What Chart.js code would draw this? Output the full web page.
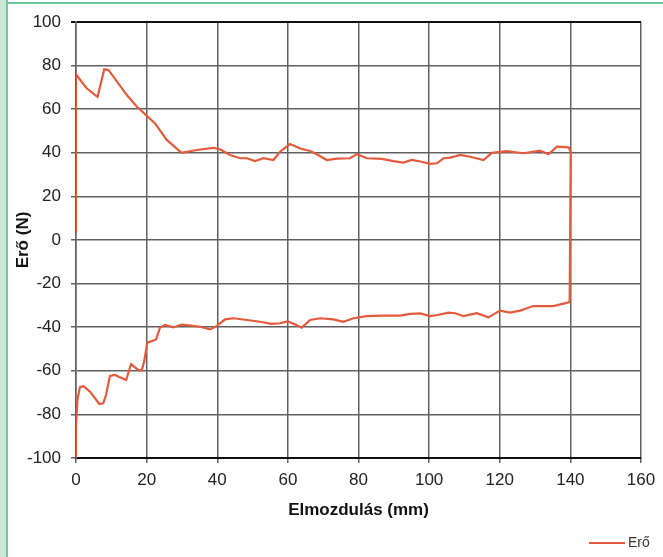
<!DOCTYPE html>
<html lang="hu">
<head>
    <meta charset="UTF-8">
    <title>Erő - elmozdulás</title>
    <script src="https://cdn.jsdelivr.net/npm/chart.js"></script>
    <style>
        body {
            margin: 0;
            background: #ffffff;
        }

        .frame {
            position: relative;
            width: 663px;
            height: 557px;
            background: #ffffff;
            overflow: hidden;
        }

        /* zöld keret a bal oldalon és felül */
        .frame .strip {
            position: absolute;
            left: 0;
            top: 0;
            width: 6px;
            height: 557px;
            background: #c8e6d7;
            border-right: 2px solid #6cc79c;
        }

        .frame .topline {
            position: absolute;
            left: 6px;
            top: 2px;
            width: 657px;
            height: 2px;
            background: #6cc79c;
        }

        .frame canvas {
            position: absolute;
            left: 0;
            top: 0;
        }
    </style>
</head>
<body>

<div class="frame">
    <div class="strip"></div>
    <div class="topline"></div>
    <canvas id="eroChart" width="663" height="557"></canvas>
</div>

<script>
// Adatok
const elmozdulas = [
    0, 0, 3, 6.1, 8.0, 9.2, 14.4, 17.2, 22.4, 25.7, 29.9, 34.2, 38.9, 40.8, 43.6, 46.5, 48.4, 50.7, 53.1, 55.9,
    57.8, 60.6, 63.5, 66.3, 68.2, 71, 73.9, 77.6, 79.5, 82.4, 86.6, 89.9, 92.7, 95.1, 97.5, 100.3, 102.2, 104.1,
    106, 108.8, 111.6, 115.4, 117.8, 122, 126.7, 131.4, 133.8, 136.2, 139.5, 140.1,
    139.8, 135.2, 129.5, 125.8, 122.9, 120.1, 116.8, 113.5, 109.7, 107.4, 105.5, 102.4, 100.3, 97.5, 94.6, 91.8,
    87.1, 82.3, 78.6, 75.7, 72.9, 69.1, 66.3, 63.9, 62, 59.9, 57.8, 55.4, 52.1, 48.4, 44.6, 42.2, 39.9, 38,
    35.1, 33.2, 29.9, 27.6, 25.2, 23.8, 22.7, 20.2, 19.3, 18.6, 17.6, 15.6, 14.2, 11, 9.6, 8.5, 7.7, 6.6, 4,
    2.1, 1.1, 0.4, 0, 0
];
const ero = [
    3, 76, 69.6, 65.7, 78.3, 78, 66.5, 61.2, 53.5, 45.9, 40, 41.3, 42.3, 41.6, 39, 37.5, 37.5, 36.2, 37.5, 36.7,
    40.5, 44, 42, 40.8, 39.3, 36.7, 37.3, 37.5, 39.4, 37.5, 37.2, 36.2, 35.5, 36.7, 36, 34.9, 35.2, 37.5,
    37.8, 39, 38.2, 36.7, 40, 40.8, 39.8, 41, 39.3, 42.8, 42.5, 40.5,
    -28.5, -30.3, -30.3, -32.4, -33.3, -32.4, -35.5, -33.6, -34.9, -33.6, -33.3, -34.4, -34.9, -33.7, -33.9, -34.7,
    -34.7, -34.9, -35.9, -37.5, -36.4, -35.9, -36.7, -40.2, -38.7, -37.3, -38.2, -38.5, -37.5, -36.7, -35.9, -36.4, -39.4, -41,
    -39.8, -39.4, -38.8, -40.1, -39, -40.1, -45.6, -47.1, -55.8, -59.9, -59.6, -56.9, -64.2, -61.9, -62.4, -71.1, -74.9, -75.2, -69.6,
    -67, -67.6, -73.4, -85.6, -100
];

const xTengely = [0, 160, 20];   // min, max, lépés
const yTengely = [-100, 100, 20];

const vonalSzin = '#e35a3c';
const betu = '"Liberation Sans", Arial, sans-serif';

// saját jelmagyarázat jobb alul
const jelmagyarazat = {
    id: 'jelmagyarazat',
    afterDraw(chart) {
        const ctx = chart.ctx;
        const ds = chart.data.datasets[0];
        ctx.save();
        ctx.strokeStyle = ds.borderColor;
        ctx.lineWidth = 2;
        ctx.beginPath();
        ctx.moveTo(589, 543);
        ctx.lineTo(625, 543);
        ctx.stroke();
        ctx.fillStyle = '#333';
        ctx.font = '14px ' + betu;
        ctx.textBaseline = 'middle';
        ctx.fillText(ds.label, 628, 543);
        ctx.restore();
    }
};

const ctx = document.getElementById('eroChart').getContext('2d');
const eroChart = new Chart(ctx, {
    type: 'scatter',
    data: {
        datasets: [{
            label: 'Erő',
            data: elmozdulas.map((x, i) => ({x: x, y: ero[i]})),
            showLine: true,
            borderColor: vonalSzin,
            borderWidth: 2.2,
            pointRadius: 0,
            tension: 0
        }]
    },
    options: {
        responsive: false,
        animation: false,
        layout: {
            padding: {left: 10, right: 22, top: 22, bottom: 28}
        },
        plugins: {
            legend: {display: false},
            tooltip: {enabled: false}
        },
        scales: {
            x: {
                type: 'linear',
                min: xTengely[0],
                max: xTengely[1],
                ticks: {
                    stepSize: xTengely[2],
                    padding: 7,
                    color: '#222',
                    font: {family: betu, size: 17}
                },
                grid: {
                    color: '#606060',
                    lineWidth: 1.5,
                    tickLength: 5
                },
                border: {color: '#111', width: 2},
                title: {
                    display: true,
                    text: 'Elmozdulás (mm)',
                    color: '#111',
                    font: {family: betu, size: 17, weight: 'bold'},
                    padding: {top: 0, bottom: 8}
                },
                afterFit(scale) {
                    scale.height = 71;
                }
            },
            y: {
                type: 'linear',
                min: yTengely[0],
                max: yTengely[1],
                ticks: {
                    stepSize: yTengely[2],
                    padding: 10,
                    color: '#222',
                    font: {family: betu, size: 17}
                },
                grid: {
                    color: (c) => c.tick && c.tick.value === yTengely[1] ? '#111' : '#606060',
                    lineWidth: (c) => c.tick && c.tick.value === yTengely[1] ? 2 : 1.5,
                    tickLength: 5
                },
                border: {color: '#606060', width: 1.5},
                title: {
                    display: true,
                    text: 'Erő (N)',
                    color: '#111',
                    font: {family: betu, size: 17, weight: 'bold'},
                    padding: {top: 3, bottom: 4}
                },
                afterFit(scale) {
                    scale.width = 66;
                }
            }
        }
    },
    plugins: [jelmagyarazat]
});
</script>
</body>
</html>
